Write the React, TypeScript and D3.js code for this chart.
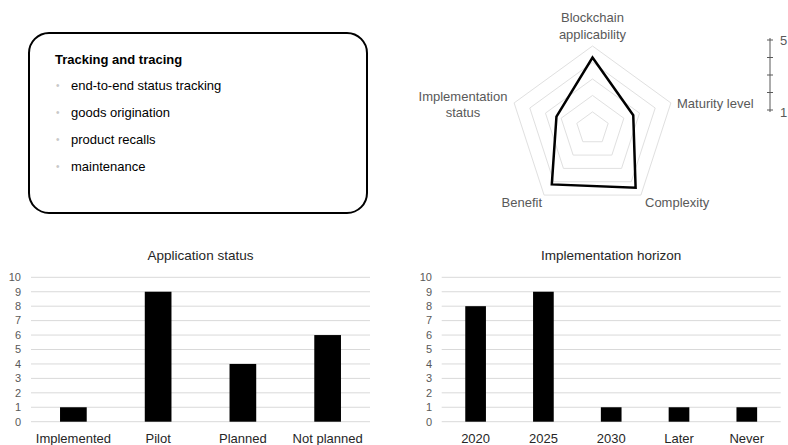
import React from 'react'
import * as d3 from 'd3'

// radar
const radarAxes = ['Blockchain applicability', 'Maturity level', 'Complexity', 'Benefit', 'Implementation status']
const radarValues = [4.3, 2.6, 4.45, 4.2, 2.3]
const radarLevels = [1, 2, 3, 4, 5]

// text box
const boxTitle = 'Tracking and tracing'
const boxItems = ['end-to-end status tracking', 'goods origination', 'product recalls', 'maintenance']

// bar charts
const statusCats = ['Implemented', 'Pilot', 'Planned', 'Not planned']
const statusValues = [1, 9, 4, 6]
const horizonCats = ['2020', '2025', '2030', 'Later', 'Never']
const horizonValues = [8, 9, 1, 1, 1]
const yTicks = [0, 1, 2, 3, 4, 5, 6, 7, 8, 9, 10]

const FONT = '"Liberation Sans", Arial, sans-serif'
const GRID = '#d9d9d9'
const LABEL = '#595959'

interface BarProps {
    title: string
    cats: string[]
    values: number[]
    x0: number
    x1: number
    labelX: number
    barFrac: number
}

const BarChart: React.FC<BarProps> = ({ title, cats, values, x0, x1, labelX, barFrac }) => {
    const y = d3.scaleLinear().domain([0, 10]).range([421.7, 277.3])
    const x = d3.scaleBand().domain(cats).range([x0, x1]).padding(0)
    const bw = x.step() * barFrac
    return (
        <g>
            <text x={(x0 + x1) / 2} y={255} dy="0.35em" textAnchor="middle" fontSize={13.5} fill="#262626">
                {title}
            </text>
            {yTicks.map((t) => (
                <g key={t}>
                    <line x1={x0} x2={x1} y1={y(t)} y2={y(t)} stroke={GRID} strokeWidth={1} />
                    <text x={labelX} y={y(t)} dy="0.35em" textAnchor="end" fontSize={11} fill={LABEL}>
                        {t}
                    </text>
                </g>
            ))}
            {cats.map((c, i) => (
                <g key={c}>
                    <rect
                        x={x(c)! + x.bandwidth() / 2 - bw / 2}
                        y={y(values[i])}
                        width={bw}
                        height={y(0) - y(values[i])}
                        fill="#000"
                    />
                    <text x={x(c)! + x.bandwidth() / 2} y={438} dy="0.35em" textAnchor="middle" fontSize={13} fill="#262626">
                        {c}
                    </text>
                </g>
            ))}
        </g>
    )
}

export default function App() {
    const cx = 592.5
    const cy = 128.4
    const R = 82.4
    const r = d3.scaleLinear().domain([0, 5]).range([0, R])
    const angle = (i: number) => (i * 2 * Math.PI) / radarAxes.length
    const ring = (v: number) =>
        d3.lineRadial<number>().angle((_, i) => angle(i)).radius(() => r(v)).curve(d3.curveLinearClosed)(radarAxes.map(() => v))
    const dataPath = d3
        .lineRadial<number>()
        .angle((_, i) => angle(i))
        .radius((d) => r(d))
        .curve(d3.curveLinearClosed)(radarValues)

    const scaleY = d3.scaleLinear().domain([1, 5]).range([110, 40])

    return (
        <svg width={788} height={445} style={{ position: 'absolute', left: 0, top: 0, fontFamily: FONT }}>
            <rect width={788} height={445} fill="#fff" />

            {/* text box */}
            <rect x={29} y={33} width={338} height={180} rx={20} ry={20} fill="none" stroke="#000" strokeWidth={2} />
            <text x={55} y={59} dy="0.35em" fontSize={13} fontWeight="bold" fill="#000">
                {boxTitle}
            </text>
            {boxItems.map((t, i) => (
                <g key={t}>
                    <text x={56} y={85 + i * 27} dy="0.35em" fontSize={10} fill="#c8c8c8">
                        •
                    </text>
                    <text x={71} y={85 + i * 27} dy="0.35em" fontSize={13} fill="#000">
                        {t}
                    </text>
                </g>
            ))}

            {/* radar */}
            <g transform={`translate(${cx},${cy})`}>
                {radarLevels.map((l) => (
                    <path key={l} d={ring(l) ?? ''} fill="none" stroke="#e0e0e0" strokeWidth={1} />
                ))}
                <path d={dataPath ?? ''} fill="none" stroke="#000" strokeWidth={2.5} strokeLinejoin="miter" />
            </g>
            <g fontSize={13} fill={LABEL}>
                <text x={cx} y={17} dy="0.35em" textAnchor="middle">Blockchain</text>
                <text x={cx} y={34} dy="0.35em" textAnchor="middle">applicability</text>
                <text x={677} y={103} dy="0.35em">Maturity level</text>
                <text x={645} y={202} dy="0.35em">Complexity</text>
                <text x={542} y={202} dy="0.35em" textAnchor="end">Benefit</text>
                <text x={463} y={96} dy="0.35em" textAnchor="middle">Implementation</text>
                <text x={463} y={112} dy="0.35em" textAnchor="middle">status</text>
            </g>

            {/* radar scale */}
            <line x1={770} x2={770} y1={scaleY(5) - 2} y2={scaleY(1) + 2} stroke={LABEL} strokeWidth={1} />
            {radarLevels.map((l) => (
                <line key={l} x1={767} x2={773} y1={scaleY(l)} y2={scaleY(l)} stroke={LABEL} strokeWidth={1} />
            ))}
            <text x={780} y={scaleY(5)} dy="0.35em" fontSize={13} fill={LABEL}>5</text>
            <text x={780} y={scaleY(1) + 2} dy="0.35em" fontSize={13} fill={LABEL}>1</text>

            <BarChart title="Application status" cats={statusCats} values={statusValues} x0={31} x1={370} labelX={21} barFrac={0.315} />
            <BarChart title="Implementation horizon" cats={horizonCats} values={horizonValues} x0={441.7} x1={780.7} labelX={432} barFrac={0.305} />
        </svg>
    )
}
